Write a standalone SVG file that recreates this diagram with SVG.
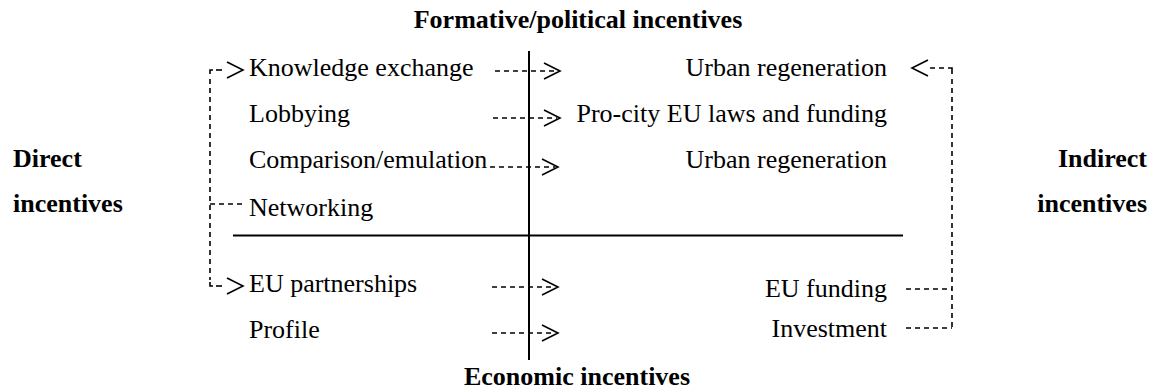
<svg xmlns="http://www.w3.org/2000/svg" width="1160" height="390" viewBox="0 0 1160 390">
<style>
text{font-family:'Liberation Serif','Times New Roman',serif;font-size:26px;fill:#000}
.b{font-weight:bold}
.r{text-anchor:end}
.m{text-anchor:middle}
.axis{stroke:#000;stroke-width:2;fill:none}
.d{stroke:#000;stroke-width:1.6;fill:none;stroke-dasharray:5,4}
.h{stroke:#000;stroke-width:1.6;fill:none}
</style>
<rect width="1160" height="390" fill="#fff"/>
<g id="axes">
<line class="axis" x1="529" y1="51" x2="529" y2="360"/>
<line class="axis" x1="233" y1="235.5" x2="903" y2="235.5"/>
</g>
<g id="titles">
<text class="b m" x="578" y="28">Formative/political incentives</text>
<text class="b m" x="577" y="385">Economic incentives</text>
<text class="b" x="13" y="167">Direct</text>
<text class="b" x="13" y="212">incentives</text>
<text class="b r" x="1147" y="167">Indirect</text>
<text class="b r" x="1147" y="212">incentives</text>
</g>
<g id="left-items">
<text x="249" y="76">Knowledge exchange</text>
<text x="249" y="122">Lobbying</text>
<text x="249" y="168">Comparison/emulation</text>
<text x="249" y="216">Networking</text>
<text x="249" y="292">EU partnerships</text>
<text x="249" y="338">Profile</text>
</g>
<g id="right-items">
<text class="r" x="887" y="76">Urban regeneration</text>
<text class="r" x="887" y="122">Pro-city EU laws and funding</text>
<text class="r" x="887" y="168">Urban regeneration</text>
<text class="r" x="887" y="297">EU funding</text>
<text class="r" x="887" y="337">Investment</text>
</g>
<g id="connectors">
<path class="d" d="M495 71H557"/><polyline class="h" points="544,63 560,71 544,79"/>
<path class="d" d="M493 118H557"/><polyline class="h" points="544,110 560,118 544,126"/>
<path class="d" d="M490 167H555"/><polyline class="h" points="542,159 558,167 542,175"/>
<path class="d" d="M492 287H555"/><polyline class="h" points="542,279 558,287 542,295"/>
<path class="d" d="M492 333H555"/><polyline class="h" points="542,325 558,333 542,341"/>
<path class="h" d="M210 74V70H213"/>
<path class="h" d="M216 70H222"/>
<path class="d" d="M210 79V280"/>
<path class="h" d="M210 282V286H213"/>
<path class="h" d="M216 286H222"/>
<polyline class="h" points="227,62 243,70 227,78"/>
<polyline class="h" points="227,278 243,286 227,294"/>
<path class="d" d="M210 204H244"/>
<path class="h" d="M952 74V68H948"/>
<path class="d" d="M944 68H930"/>
<path class="d" d="M952 79V328"/>
<polyline class="h" points="928,60 912,68 928,76"/>
<path class="d" d="M906 289H952"/>
<path class="d" d="M906 328H952"/>
</g>
</svg>
